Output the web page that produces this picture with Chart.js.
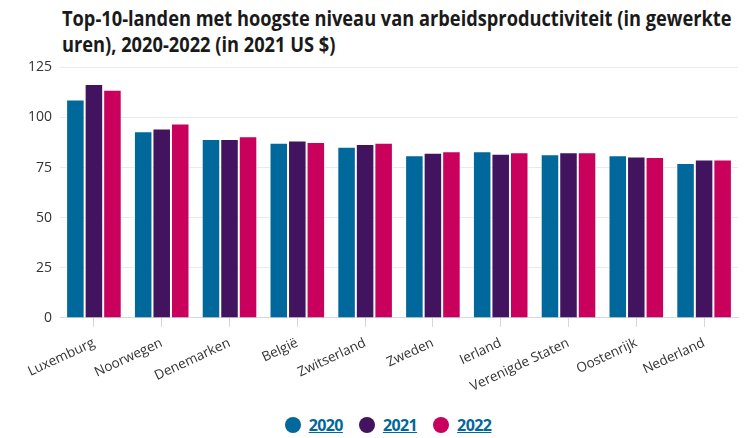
<!DOCTYPE html>
<html>
<head>
<meta charset="utf-8">
<script src="https://cdn.jsdelivr.net/npm/chart.js@4.4.1/dist/chart.umd.min.js"></script>
<style>
    body { margin: 0; background: #fff; width: 752px; height: 438px; overflow: hidden; position: relative; }
    .title {
        position: absolute; left: 62px; top: 5px; width: 765px;
        font-family: "Open Sans", sans-serif;
        font-weight: bold; font-size: 20.5px; line-height: 26px; color: #1a1a1a;
        transform: scaleX(0.89); transform-origin: left top;
    }
    .chart-wrap { position: absolute; left: 0; top: 51px; width: 752px; height: 352px; }
    .legend {
        position: absolute; left: 12px; top: 414px; width: 752px; text-align: center;
        font-family: "Open Sans", sans-serif; font-weight: bold; font-size: 16px; letter-spacing: -0.6px;
    }
    .legend span.item { display: inline-block; margin: 0 8px; color: #01689b; }
    .legend span.dot { display: inline-block; width: 16px; height: 16px; border-radius: 50%; vertical-align: -2px; margin-right: 8px; }
    .legend span.lbl { text-decoration: underline; }
</style>
</head>
<body>
<div class="title">Top-10-landen met hoogste niveau van arbeidsproductiviteit (in gewerkte uren), 2020-2022 (in 2021 US $)</div>
<div class="chart-wrap"><canvas id="chart"></canvas></div>
<div class="legend" id="legend"></div>
<script>
const countries = ['Luxemburg', 'Noorwegen', 'Denemarken', 'België', 'Zwitserland', 'Zweden', 'Ierland', 'Verenigde Staten', 'Oostenrijk', 'Nederland'];
const years = ['2020', '2021', '2022'];
const values2020 = [109.0, 93.1, 89.3, 87.4, 85.4, 81.1, 83.1, 81.6, 81.1, 77.3];
const values2021 = [116.7, 94.5, 89.3, 88.5, 86.8, 82.4, 81.9, 82.6, 80.6, 79.1];
const values2022 = [113.8, 97.0, 90.6, 87.8, 87.4, 83.1, 82.6, 82.6, 80.3, 79.1];
const yTicks = [0, 25, 50, 75, 100, 125];
const colors = ['#01689b', '#42145f', '#ca005d'];

const series = [values2020, values2021, values2022];

// Legend
const legendEl = document.getElementById('legend');
years.forEach((y, i) => {
    const item = document.createElement('span');
    item.className = 'item';
    item.innerHTML = '<span class="dot" style="background:' + colors[i] + '"></span><span class="lbl">' + y + '</span>';
    legendEl.appendChild(item);
});

new Chart(document.getElementById('chart'), {
    type: 'bar',
    data: {
        labels: countries,
        datasets: series.map((data, i) => ({
            label: years[i],
            data: data,
            backgroundColor: colors[i],
            borderColor: '#ffffff',
            borderWidth: 1,
            categoryPercentage: 0.82,
            barPercentage: 1.0
        }))
    },
    options: {
        responsive: true,
        maintainAspectRatio: false,
        animation: false,
        layout: { padding: { left: 20, right: 14, top: 4 } },
        plugins: {
            legend: { display: false },
            tooltip: { enabled: false }
        },
        scales: {
            y: {
                min: 0,
                max: 125,
                afterBuildTicks: (axis) => { axis.ticks = yTicks.map(v => ({ value: v })); },
                grid: { color: '#e6eaf0', drawTicks: false },
                border: { display: false },
                ticks: { color: '#333', padding: 8, font: { family: 'Open Sans', size: 14 } }
            },
            x: {
                grid: { display: true, drawOnChartArea: false, offset: false, tickLength: 9, color: '#cfd8e6' },
                border: { color: '#cfd8e6' },
                ticks: {
                    color: '#333', minRotation: 25, maxRotation: 25, padding: 8,
                    font: { family: 'Open Sans', size: 13.5 }
                }
            }
        }
    }
});
</script>
</body>
</html>
